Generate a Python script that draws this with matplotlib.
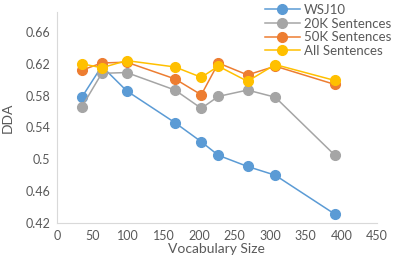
import matplotlib
matplotlib.use("Agg")
import matplotlib.pyplot as plt

vocab = [35, 63, 98, 166, 203, 227, 268, 307, 391]
wsj10 = [0.578, 0.617, 0.586, 0.546, 0.522, 0.505, 0.491, 0.480, 0.431]
sent20k = [0.566, 0.608, 0.609, 0.587, 0.564, 0.579, 0.587, 0.578, 0.505]
sent50k = [0.612, 0.621, 0.622, 0.601, 0.581, 0.621, 0.606, 0.617, 0.594]
sent_all = [0.620, 0.615, 0.624, 0.616, 0.603, 0.617, 0.598, 0.619, 0.599]

series = [("WSJ10", wsj10, "#5B9BD5"),
          ("20K Sentences", sent20k, "#A5A5A5"),
          ("50K Sentences", sent50k, "#ED7D31"),
          ("All Sentences", sent_all, "#FFC000")]

txt = "#595959"
plt.rcParams["font.family"] = ["Lato", "DejaVu Sans"]

fig = plt.figure(figsize=(3.93, 2.62), dpi=100)
ax = fig.add_axes([0.145, 0.149, 0.814, 0.805])

for name, vals, col in series:
    ax.plot(vocab, vals, color=col, lw=1.1, marker="o", ms=7, label=name)

ax.set_xlim(0, 450)
ax.set_ylim(0.42, 0.685)
ax.set_xticks(range(0, 451, 50))
ax.set_yticks([0.42, 0.46, 0.5, 0.54, 0.58, 0.62, 0.66])
ax.set_yticklabels(["0.42", "0.46", "0.5", "0.54", "0.58", "0.62", "0.66"])
ax.tick_params(length=0, labelsize=9, colors=txt, pad=5)
for s in ["top", "right"]:
    ax.spines[s].set_visible(False)
for s in ["left", "bottom"]:
    ax.spines[s].set_color("#d9d9d9")
ax.set_xlabel("Vocabulary Size", fontsize=10, color=txt, labelpad=1)
ax.set_ylabel("DDA", fontsize=10, color=txt, labelpad=8)

leg = fig.legend(loc="upper left", bbox_to_anchor=(0.655, 1.015), frameon=False,
                 fontsize=9.5, handlelength=2.6, handletextpad=0.3,
                 labelspacing=0.12, borderaxespad=0.2)
for t in leg.get_texts():
    t.set_color(txt)

fig.savefig("out.png", dpi=100)
